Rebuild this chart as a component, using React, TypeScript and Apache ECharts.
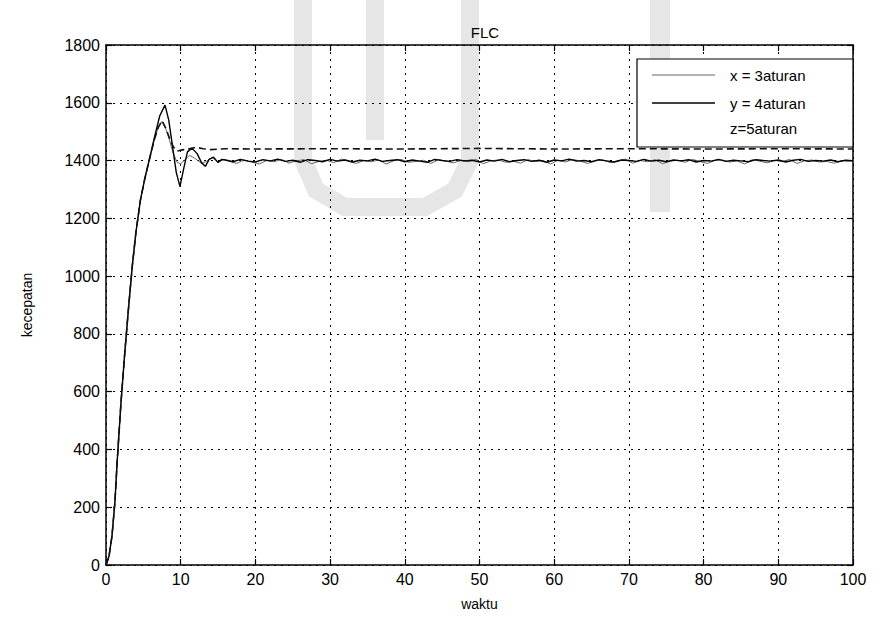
import React, { useEffect, useRef } from "react";
import * as echarts from "echarts";

// ---- data ----
const xTicks = [0, 10, 20, 30, 40, 50, 60, 70, 80, 90, 100];
const yTicks = [0, 200, 400, 600, 800, 1000, 1200, 1400, 1600, 1800];

// x = 3aturan (thin line)
const xTime = [0, 0.4, 0.8, 1.2, 1.5, 2.0, 2.5, 3.0, 3.5, 4.0, 4.6, 5.2, 5.8, 6.5, 7.0, 7.5, 8.0, 8.5, 9.0, 9.5, 10.0, 10.5, 11.2, 12.0, 12.8, 13.5, 14.2, 15.0, 15.8];
const xValue = [0, 30, 100, 220, 360, 560, 730, 885, 1030, 1150, 1262, 1338, 1403, 1475, 1515, 1536, 1510, 1470, 1425, 1395, 1388, 1402, 1418, 1406, 1390, 1398, 1410, 1396, 1403];
const xTailStart = 16.5;
const xTail = [
  1398, 1390, 1402, 1395, 1388, 1400, 1396, 1404, 1391, 1399,
  1403, 1389, 1397, 1401, 1393, 1405, 1398, 1390, 1400, 1396,
  1402, 1388, 1399, 1404, 1394, 1397, 1401, 1390, 1403, 1398,
  1392, 1400, 1396, 1404, 1389, 1399, 1402, 1394, 1398, 1391,
  1403, 1397, 1400, 1388, 1401, 1395, 1404, 1398, 1390, 1399,
  1402, 1393, 1397, 1405, 1391, 1400, 1396, 1403, 1389, 1398,
  1401, 1394, 1404, 1397, 1390, 1400, 1402, 1395, 1399, 1388,
  1403, 1398, 1392, 1401, 1396, 1404, 1390, 1399, 1402, 1395,
  1397, 1391, 1400, 1398,
];

// y = 4aturan (solid black)
const yTime = [0, 0.4, 0.8, 1.2, 1.5, 2.0, 2.5, 3.0, 3.5, 4.0, 4.6, 5.2, 5.8, 6.5, 7.2, 7.9, 8.4, 8.9, 9.4, 9.9, 10.4, 10.9, 11.5, 12.2, 12.8, 13.3, 13.8, 14.4, 15.0, 15.5];
const yValue = [0, 30, 100, 220, 360, 560, 730, 885, 1030, 1150, 1262, 1338, 1403, 1482, 1555, 1592, 1540, 1450, 1360, 1310, 1372, 1430, 1443, 1424, 1392, 1380, 1404, 1412, 1393, 1404];
const yTailStart = 16;
const yTail = [
  1402, 1396, 1404, 1398, 1395, 1403, 1399, 1405, 1397, 1401,
  1394, 1403, 1400, 1396, 1404, 1398, 1402, 1395, 1401, 1399,
  1405, 1397, 1400, 1403, 1396, 1402, 1398, 1394, 1404, 1400,
  1397, 1403, 1399, 1401, 1395, 1402, 1398, 1404, 1396, 1400,
  1403, 1397, 1401, 1394, 1402, 1399, 1405, 1398, 1400, 1396,
  1403, 1399, 1395, 1402, 1400, 1397, 1404, 1398, 1401, 1396,
  1402, 1399, 1403, 1395, 1400, 1398, 1404, 1397, 1401, 1399,
  1396, 1403, 1400, 1398, 1402, 1395, 1401, 1404, 1397, 1400,
  1398, 1402, 1396, 1401, 1399,
];

// z = 5aturan (dashed)
const zTime = [0, 0.4, 0.8, 1.2, 1.5, 2.0, 2.5, 3.0, 3.5, 4.0, 4.6, 5.2, 5.8, 6.5, 7.0, 7.5, 8.0, 8.5, 9.0, 9.5, 10, 11, 12, 13, 14, 16, 20, 30, 40, 50, 60, 70, 80, 90, 100];
const zValue = [0, 30, 100, 220, 360, 560, 730, 885, 1030, 1150, 1262, 1338, 1403, 1475, 1515, 1538, 1512, 1478, 1448, 1433, 1436, 1440, 1446, 1441, 1438, 1441, 1440, 1441, 1440, 1442, 1440, 1441, 1440, 1441, 1440];

const seriesNames = ["x = 3aturan", "y = 4aturan", "z=5aturan"];

function pairs(t: number[], v: number[]) {
  return t.map((tt, i) => [tt, v[i]]);
}
function tail(start: number, v: number[]) {
  return v.map((val, i) => [start + i, val]);
}

export default function App() {
  const ref = useRef<HTMLDivElement>(null);
  useEffect(() => {
    document.body.style.margin = "0";
    const chart = echarts.init(ref.current!, null, { renderer: "svg" });
    const font = "'Liberation Sans', Arial, sans-serif";
    const wm = "#e6e6e6";

    const xData = pairs(xTime, xValue).concat(tail(xTailStart, xTail), [[100, 1400]]);
    const yData = pairs(yTime, yValue).concat(tail(yTailStart, yTail));
    const zData = pairs(zTime, zValue);

    const tickStyle = { show: true, inside: true, length: 6, lineStyle: { color: "#000", width: 1.2 } };
    const lineStyleAxis = { show: true, onZero: false, lineStyle: { color: "#000", width: 1.5 } };

    const axisCommonX = {
      type: "value",
      min: xTicks[0],
      max: xTicks[xTicks.length - 1],
      interval: xTicks[1] - xTicks[0],
      axisLine: lineStyleAxis,
      axisTick: tickStyle,
    };
    const axisCommonY = {
      type: "value",
      min: yTicks[0],
      max: yTicks[yTicks.length - 1],
      interval: yTicks[1] - yTicks[0],
      axisLine: lineStyleAxis,
      axisTick: tickStyle,
    };

    const textEl = (text: string, y: number) => ({
      type: "text",
      x: 730,
      y,
      style: { text, fill: "#000", font: `15px ${font}`, textVerticalAlign: "middle" },
      z: 101,
    });

    chart.setOption({
      animation: false,
      backgroundColor: "#fff",
      title: {
        text: "FLC",
        left: 480,
        top: 20,
        textAlign: "center",
        textStyle: { fontSize: 15, fontWeight: "normal", color: "#000", fontFamily: font },
      },
      grid: { left: 106, right: 29, top: 45, bottom: 53, containLabel: false },
      xAxis: [
        {
          ...axisCommonX,
          position: "bottom",
          name: "waktu",
          nameLocation: "middle",
          nameGap: 32,
          nameTextStyle: { fontSize: 14, color: "#000", fontFamily: font },
          axisLabel: { show: true, color: "#000", fontSize: 16, margin: 6, fontFamily: font, formatter: (v: number) => String(v) },
          splitLine: { show: true, lineStyle: { color: "#000", type: [2, 5], width: 1 } },
        },
        {
          ...axisCommonX,
          position: "top",
          axisLabel: { show: false },
          splitLine: { show: false },
        },
      ],
      yAxis: [
        {
          ...axisCommonY,
          position: "left",
          name: "kecepatan",
          nameLocation: "middle",
          nameGap: 72,
          nameRotate: 90,
          nameTextStyle: { fontSize: 14, color: "#000", fontFamily: font },
          axisLabel: { show: true, color: "#000", fontSize: 16, margin: 6, fontFamily: font, formatter: (v: number) => String(v) },
          splitLine: { show: true, lineStyle: { color: "#000", type: [2, 5], width: 1 } },
        },
        {
          ...axisCommonY,
          position: "right",
          axisLabel: { show: false },
          splitLine: { show: false },
        },
      ],
      series: [
        {
          name: seriesNames[0],
          type: "line",
          data: xData,
          showSymbol: false,
          symbol: "none",
          lineStyle: { color: "#666", width: 1 },
          z: 2,
        },
        {
          name: seriesNames[1],
          type: "line",
          data: yData,
          showSymbol: false,
          symbol: "none",
          lineStyle: { color: "#000", width: 1.4 },
          z: 3,
        },
        {
          name: seriesNames[2],
          type: "line",
          data: zData,
          showSymbol: false,
          symbol: "none",
          lineStyle: { color: "#111", width: 1.6, type: [7, 4] },
          z: 4,
        },
      ],
      graphic: [
        // faint background watermark
        {
          type: "group",
          z: -10,
          silent: true,
          children: [
            {
              type: "polyline",
              shape: { points: [[303, 0], [303, 160], [316, 190], [345, 207], [425, 207], [455, 190], [470, 160], [470, 0]] },
              style: { stroke: wm, lineWidth: 18, fill: "none" },
              z: -10,
            },
            { type: "rect", shape: { x: 366, y: 0, width: 18, height: 140 }, style: { fill: wm }, z: -10 },
            { type: "rect", shape: { x: 650, y: 0, width: 20, height: 212 }, style: { fill: wm }, z: -10 },
          ],
        },
        // legend box
        {
          type: "group",
          z: 100,
          children: [
            {
              type: "rect",
              shape: { x: 637, y: 59, width: 216, height: 88 },
              style: { fill: "#fff", stroke: "#000", lineWidth: 1.2 },
              z: 100,
            },
            { type: "line", shape: { x1: 652, y1: 75, x2: 715, y2: 75 }, style: { stroke: "#666", lineWidth: 1 }, z: 101 },
            { type: "line", shape: { x1: 652, y1: 103, x2: 715, y2: 103 }, style: { stroke: "#000", lineWidth: 1.4 }, z: 101 },
            textEl(seriesNames[0], 75),
            textEl(seriesNames[1], 103),
            textEl(seriesNames[2], 128),
          ],
        },
      ],
    });
    return () => chart.dispose();
  }, []);
  return <div ref={ref} style={{ width: 882, height: 618 }} />;
}
